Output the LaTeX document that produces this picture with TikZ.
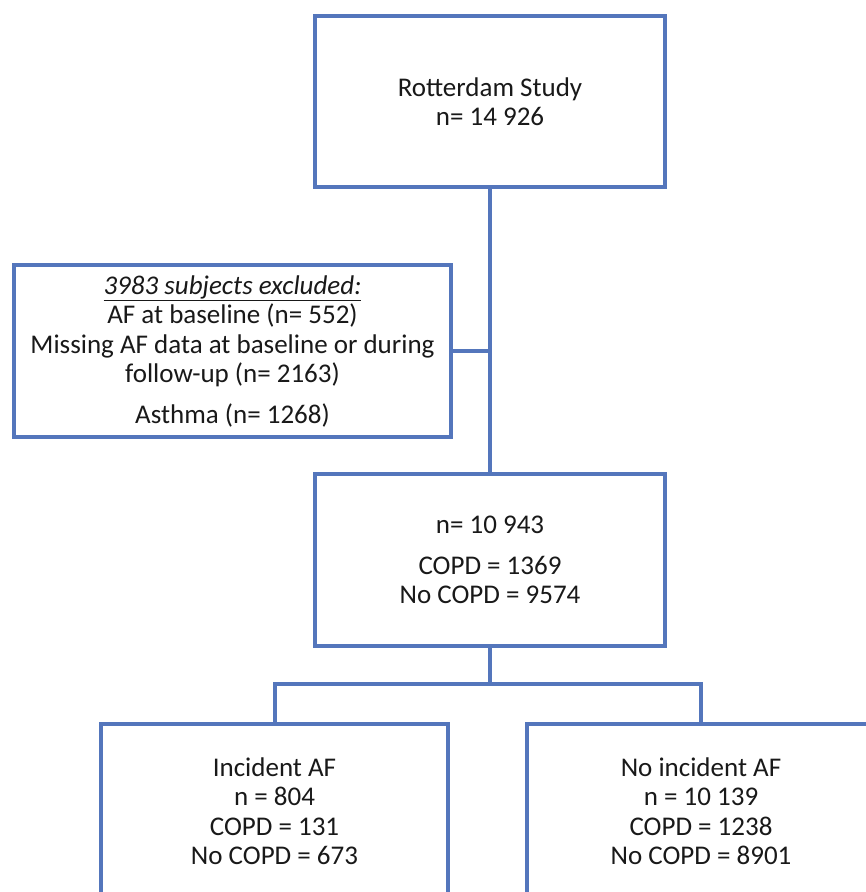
\documentclass[tikz,border=0pt]{standalone}
\usepackage{fontspec}
\setmainfont{Carlito}
\definecolor{boxblue}{RGB}{84,118,188}
\begin{document}
\begin{tikzpicture}[x=1pt,y=-1pt,
  box/.style={draw=boxblue,line width=4pt,rectangle,align=center,inner sep=0pt,
    font=\fontsize{27}{29.5}\selectfont,text=black!90},
  link/.style={draw=boxblue,line width=4pt}]
\useasboundingbox (0,0) rectangle (866,892);
\clip (0,0) rectangle (866,892);
\fill[white] (0,0) rectangle (866,892);
\node[box,minimum width=350pt,minimum height=171pt] (top) at (490,101.5)
  {Rotterdam Study\\n= 14 926};
\node[box,minimum width=437pt,minimum height=172pt] (excl) at (232.5,351)
  {\textit{\underline{3983 subjects excluded:}}\\AF at baseline (n= 552)\\Missing AF data at baseline or during\\follow-up (n= 2163)\\[11pt]Asthma (n= 1268)};
\node[box,minimum width=350pt,minimum height=172pt] (mid) at (490,560)
  {n= 10 943\\[11pt]COPD = 1369\\No COPD = 9574};
\node[box,minimum width=347pt,minimum height=174pt] (left) at (274.5,811)
  {Incident AF\\n = 804\\COPD = 131\\No COPD = 673};
\node[box,minimum width=348pt,minimum height=174pt] (right) at (701,811)
  {No incident AF\\n = 10 139\\COPD = 1238\\No COPD = 8901};
\coordinate (join) at (490,351);
\coordinate (split) at (490,684);
\draw[link] (top.south) -- (mid.north);
\draw[link] (excl.east) -- (join);
\draw[link] (mid.south) -- (split);
\draw[link] (left.north) |- (split) -| (right.north);
\end{tikzpicture}
\end{document}
